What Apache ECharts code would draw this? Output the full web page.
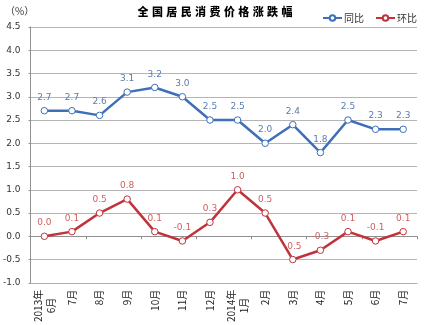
<!DOCTYPE html>
<html>
<head>
<meta charset="utf-8">
<style>
  html, body { margin: 0; padding: 0; background: #fff; }
  #chart { width: 430px; height: 325px; }
</style>
<script src="https://cdn.jsdelivr.net/npm/echarts@6/dist/echarts.min.js"></script>
</head>
<body>
<div id="chart"></div>
<script>
// Monthly CPI change, June 2013 – July 2014
const titleText = '全国居民消费价格涨跌幅';
const unitText = '（%）';
const categories = ['2013年\n6月', '7月', '8月', '9月', '10月', '11月', '12月',
  '2014年\n1月', '2月', '3月', '4月', '5月', '6月', '7月'];
const yearOnYear = [2.7, 2.7, 2.6, 3.1, 3.2, 3.0, 2.5, 2.5, 2.0, 2.4, 1.8, 2.5, 2.3, 2.3];
const monthOnMonth = [0.0, 0.1, 0.5, 0.8, 0.1, -0.1, 0.3, 1.0, 0.5, -0.5, -0.3, 0.1, -0.1, 0.1];
const seriesNames = ['同比', '环比'];

const chart = echarts.init(document.getElementById('chart'), null, { renderer: 'canvas' });

// spread the title characters a little, like a letter-spaced heading
const spacedTitle = Array.from(titleText).map(ch => '{c|' + ch + '}').join('');

// two-line month labels: centre the short month under the year
function catLabel(v) {
  const parts = v.split('\n');
  if (parts.length === 2) return '{y|' + parts[0] + '}\n{m|' + parts[1] + '}';
  return '{s|' + v + '}';
}

const labelFont = 'DejaVu Sans, sans-serif';
const cjk = 'Noto Sans CJK SC';

chart.setOption({
  animation: false,
  backgroundColor: '#fff',
  title: {
    text: spacedTitle,
    left: 'center',
    top: 1,
    textStyle: {
      rich: {
        c: { fontSize: 11, fontWeight: 900, color: '#000', fontFamily: cjk, padding: [0, 1.7, 0, 1.7] }
      }
    }
  },
  graphic: [{
    type: 'text', left: 5, top: 6,
    style: { text: unitText, fontSize: 10, fill: '#333', fontFamily: cjk }
  }],
  legend: {
    data: seriesNames,
    orient: 'horizontal',
    right: 8, top: 8,
    itemWidth: 19, itemHeight: 7, itemGap: 11,
    textStyle: { fontSize: 10, color: '#333', fontFamily: cjk, padding: [0, 0, 0, -3] }
  },
  grid: { left: 29, right: 13, top: 27, bottom: 40 },
  xAxis: [{
    type: 'category',
    data: categories,
    boundaryGap: true,
    axisLine: { show: true, onZero: false, lineStyle: { color: '#b0b0b0' } },
    axisTick: { show: false },
    axisLabel: {
      rotate: 90, margin: 7, interval: 0, color: '#222',
      formatter: catLabel,
      rich: {
        y: { fontSize: 10, fontFamily: cjk, color: '#222', lineHeight: 13 },
        m: { fontSize: 10, fontFamily: cjk, color: '#222', lineHeight: 13, padding: [0, 8, 0, 0] },
        s: { fontSize: 10, fontFamily: cjk, color: '#222' }
      }
    },
    splitLine: { show: false }
  }, {
    // zero line with category boundary ticks
    type: 'category',
    data: categories,
    position: 'top',
    boundaryGap: true,
    axisLine: { show: true, onZero: true, lineStyle: { color: '#909090', width: 1 } },
    axisTick: { show: true, inside: true, length: 3, lineStyle: { color: '#909090' } },
    axisLabel: { show: false },
    splitLine: { show: false }
  }],
  yAxis: {
    type: 'value',
    min: -1, max: 4.5, interval: 0.5,
    axisLine: { show: true, lineStyle: { color: '#909090' } },
    axisTick: { show: true, length: 2, lineStyle: { color: '#909090' } },
    axisLabel: {
      margin: 10, fontSize: 9, color: '#333', fontFamily: labelFont,
      formatter: v => v.toFixed(1)
    },
    splitLine: { show: true, lineStyle: { color: '#b4b4b4', width: 1 } }
  },
  series: [{
    name: seriesNames[0],
    type: 'line',
    data: yearOnYear,
    symbol: 'circle', symbolSize: 6.5,
    lineStyle: { color: '#3f6fb8', width: 2.5 },
    itemStyle: { color: '#fff', borderColor: '#3f6fb8', borderWidth: 1 },
    label: {
      show: true, position: 'top', distance: 5,
      fontSize: 9, color: '#5a7bb0', fontFamily: labelFont,
      formatter: p => p.value.toFixed(1)
    },
    z: 3
  }, {
    name: seriesNames[1],
    type: 'line',
    data: monthOnMonth,
    symbol: 'circle', symbolSize: 6.5,
    lineStyle: { color: '#c0333a', width: 2.5 },
    itemStyle: { color: '#fff', borderColor: '#c0333a', borderWidth: 1 },
    label: {
      show: true, position: 'top', distance: 5,
      fontSize: 9, color: '#d06060', fontFamily: labelFont,
      formatter: p => p.value.toFixed(1)
    },
    z: 3
  }]
});
</script>
</body>
</html>
